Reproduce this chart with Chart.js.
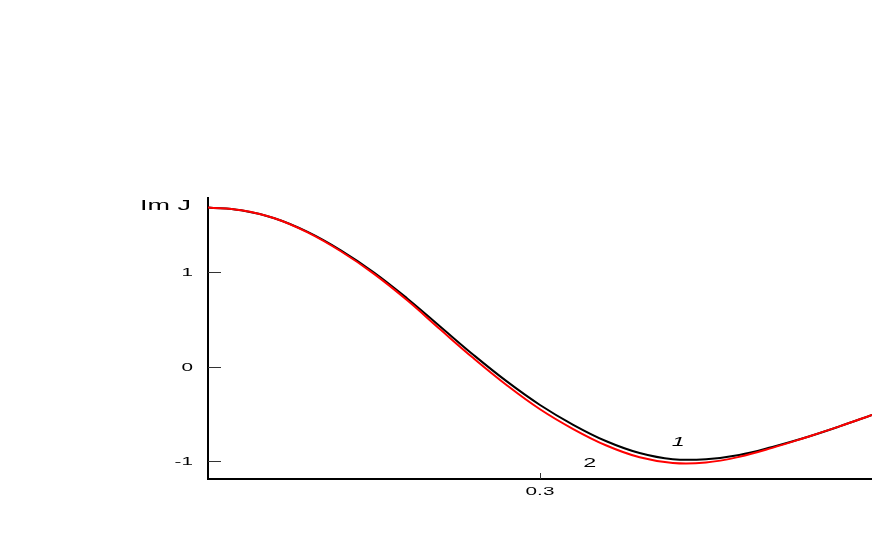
<!DOCTYPE html>
<html>
<head>
<meta charset="utf-8">
<script src="https://cdn.jsdelivr.net/npm/chart.js@4"></script>
<style>
  html, body { margin: 0; padding: 0; background: #fff; }
  #wrap { width: 872px; height: 545px; }
</style>
</head>
<body>
<div id="wrap"><canvas id="myChart"></canvas></div>
<script>
const xValues = [0, 0.03, 0.06, 0.09, 0.12, 0.15, 0.18, 0.21, 0.24, 0.27, 0.30,
                 0.33, 0.36, 0.39, 0.42, 0.45, 0.48, 0.51, 0.54, 0.57, 0.60];
const curveOne = [1.69, 1.66, 1.575, 1.43, 1.235, 1.00, 0.725, 0.425, 0.125, -0.155, -0.405,
                  -0.615, -0.79, -0.915, -0.98, -0.98, -0.935, -0.85, -0.75, -0.635, -0.51];
const curveTwo = [1.69, 1.66, 1.575, 1.425, 1.225, 0.985, 0.705, 0.395, 0.09, -0.195, -0.45,
                  -0.66, -0.835, -0.96, -1.02, -1.015, -0.955, -0.86, -0.75, -0.635, -0.51];
const xTicks = [0.3];
const yTicks = [-1, 0, 1];
const yTitle = 'Im J';
// curve labels: [text, x, y, italic]
const curveLabels = [['1', 0.425, -0.79, true], ['2', 0.345, -1.01, false]];

const toPoints = (ys) => xValues.map((x, i) => ({ x: x, y: ys[i] }));

// the original lettering is stretched sideways
function wideText(ctx, text, x, y, align) {
  ctx.save();
  ctx.translate(x, y);
  ctx.scale(1.8, 1);
  ctx.textAlign = align;
  ctx.textBaseline = 'alphabetic';
  ctx.fillText(text, 0, 0);
  ctx.restore();
}

const decorPlugin = {
  id: 'decor',
  afterDraw(chart) {
    const ctx = chart.ctx;
    const xs = chart.scales.x;
    const ys = chart.scales.y;
    ctx.save();
    ctx.strokeStyle = '#333';
    ctx.lineWidth = 1;
    // inward tick marks
    yTicks.forEach(v => {
      const py = Math.round(ys.getPixelForValue(v)) + 0.5;
      ctx.beginPath();
      ctx.moveTo(xs.left, py);
      ctx.lineTo(xs.left + 13, py);
      ctx.stroke();
    });
    xTicks.forEach(v => {
      const px = Math.round(xs.getPixelForValue(v)) + 0.5;
      ctx.beginPath();
      ctx.moveTo(px, ys.bottom);
      ctx.lineTo(px, ys.bottom - 6);
      ctx.stroke();
    });
    ctx.fillStyle = '#000';
    // tick labels
    ctx.font = '11.5px "Liberation Sans", Arial, sans-serif';
    yTicks.forEach(v => {
      const label = v < 0 ? '-' + Math.abs(v) : String(v);
      wideText(ctx, label, xs.left - 15, ys.getPixelForValue(v) + 4, 'right');
    });
    xTicks.forEach(v => {
      wideText(ctx, v.toFixed(1), xs.getPixelForValue(v), ys.bottom + 16, 'center');
    });
    // axis title
    ctx.font = '15px "Liberation Sans", Arial, sans-serif';
    wideText(ctx, yTitle, 140, ys.top + 12, 'left');
    // curve numbers
    curveLabels.forEach(([t, x, y, it]) => {
      ctx.font = (it ? 'italic ' : '') + '13px "Liberation Sans", Arial, sans-serif';
      wideText(ctx, t, xs.getPixelForValue(x), ys.getPixelForValue(y) + 5, 'center');
    });
    ctx.restore();
  }
};

new Chart('myChart', {
  type: 'line',
  data: {
    datasets: [{
      label: '2',
      data: toPoints(curveTwo),
      borderColor: '#ff0000',
      borderWidth: 2,
      pointRadius: 0,
      fill: false,
      tension: 0.4
    }, {
      label: '1',
      data: toPoints(curveOne),
      borderColor: '#000000',
      borderWidth: 2,
      pointRadius: 0,
      fill: false,
      tension: 0.4
    }]
  },
  plugins: [decorPlugin],
  options: {
    responsive: true,
    maintainAspectRatio: false,
    animation: false,
    layout: { padding: { top: 198, left: 0, right: 0, bottom: 0 } },
    plugins: {
      legend: { display: false },
      tooltip: { enabled: false }
    },
    scales: {
      x: {
        type: 'linear',
        min: 0,
        max: 0.6,
        afterBuildTicks: (axis) => { axis.ticks = xTicks.map(v => ({ value: v })); },
        afterFit: (axis) => { axis.height = 66; },
        grid: { drawOnChartArea: false, drawTicks: false },
        border: { display: true, color: '#000', width: 2 },
        ticks: { display: false }
      },
      y: {
        min: -1.19,
        max: 1.79,
        afterBuildTicks: (axis) => { axis.ticks = yTicks.map(v => ({ value: v })); },
        afterFit: (axis) => { axis.width = 208; },
        grid: { drawOnChartArea: false, drawTicks: false },
        border: { display: true, color: '#000', width: 2 },
        ticks: { display: false }
      }
    }
  }
});
</script>
</body>
</html>
